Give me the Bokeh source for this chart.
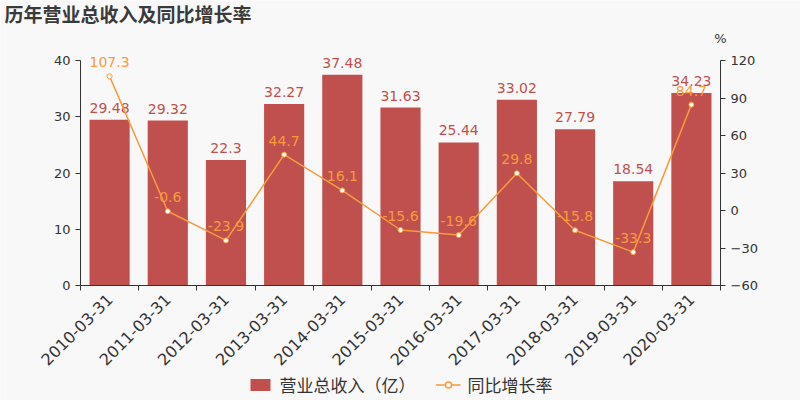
from bokeh.plotting import figure
from bokeh.models import (Range1d, LinearAxis, FixedTicker, ColumnDataSource, Legend, LegendItem, Label)
from bokeh.embed import file_html
from bokeh.resources import INLINE
from bokeh.core.properties import value
import math

dates = ["2010-03-31", "2011-03-31", "2012-03-31", "2013-03-31", "2014-03-31", "2015-03-31",
         "2016-03-31", "2017-03-31", "2018-03-31", "2019-03-31", "2020-03-31"]
revenue = [29.48, 29.32, 22.3, 32.27, 37.48, 31.63, 25.44, 33.02, 27.79, 18.54, 34.23]
growth = [107.3, -0.6, -23.9, 44.7, 16.1, -15.6, -19.6, 29.8, -15.8, -33.3, 84.7]
left_ticks = [0, 10, 20, 30, 40]
right_ticks = [-60, -30, 0, 30, 60, 90, 120]

BAR = "#c0504d"
LINE = "#f89a3e"
TXT = "#333333"
BG = "#f8f8f8"
NUM_FONT = "DejaVu Sans"
CJK = "Noto Sans CJK SC"

W, H = 800, 400
PL, PR, PT, PB = 80, 720, 60, 285   # plot-area pixel box
n = len(dates)

# ranges so that the whole canvas is the frame and the plot area sits at the box above
ux = (PR - PL) / n
x_lo, x_hi = -PL / ux, n + (W - PR) / ux
l_lo, l_hi = left_ticks[0], left_ticks[-1]
ul = (PB - PT) / (l_hi - l_lo)
r_lo, r_hi = right_ticks[0], right_ticks[-1]
ur = (PB - PT) / (r_hi - r_lo)

xs = [i + 0.5 for i in range(n)]
src = ColumnDataSource(dict(x=xs, rev=revenue, gr=growth,
                            rev_lbl=[f"{v:g}" for v in revenue],
                            gr_lbl=[f"{v:g}" for v in growth]))

p = figure(width=W, height=H, output_backend="svg", toolbar_location=None,
           x_range=Range1d(x_lo, x_hi),
           y_range=Range1d(l_lo - (H - PB) / ul, l_hi + PT / ul),
           background_fill_color=BG, border_fill_color=BG,
           min_border_left=0, min_border_right=0, min_border_top=0, min_border_bottom=0)
p.outline_line_color = None
p.xgrid.visible = False
p.ygrid.visible = False
p.extra_y_ranges = {"g": Range1d(r_lo - (H - PB) / ur, r_hi + PT / ur)}

bars = p.vbar(x="x", top="rev", width=0.69, source=src, fill_color=BAR, line_color=None)
p.text(x="x", y="rev", text="rev_lbl", source=src, text_color=BAR, text_align="center",
       text_baseline="bottom", y_offset=-7, text_font=value(NUM_FONT), text_font_size="14px")

ln = p.line(x="x", y="gr", source=src, y_range_name="g", line_color=LINE, line_width=1.5)
pts = p.scatter(x="x", y="gr", source=src, y_range_name="g", size=5, fill_color="white",
                line_color=LINE, line_width=1)
p.text(x="x", y="gr", text="gr_lbl", source=src, y_range_name="g", text_color=LINE,
       text_align="center", text_baseline="bottom", y_offset=-9,
       text_font=value(NUM_FONT), text_font_size="14px")

# legend-only marker (larger hollow circle, as in the original's legend); NaN = not drawn in plot
nan = float("nan")
leg_src = ColumnDataSource(dict(x=[nan], y=[nan]))
leg_pt = p.scatter(x="x", y="y", source=leg_src, size=12, fill_color="white",
                   line_color=LINE, line_width=1.5)

# axes (fixed inside the full-canvas frame)
xa = p.xaxis[0]
xa.fixed_location = 0
xa.bounds = (0, n)
xa.ticker = FixedTicker(ticks=xs, minor_ticks=list(range(n + 1)))
xa.major_label_overrides = {x: d for x, d in zip(xs, dates)}
xa.major_label_orientation = math.pi / 4
xa.major_tick_out = 0
xa.major_tick_in = 0
xa.minor_tick_out = 5
xa.minor_tick_in = 0
xa.minor_tick_line_color = TXT
xa.axis_line_color = TXT
xa.major_label_text_color = TXT
xa.major_label_text_font = NUM_FONT
xa.major_label_text_font_size = "16px"
xa.major_label_standoff = 6

ya = p.yaxis[0]
ya.fixed_location = 0
ya.bounds = (l_lo, l_hi)
ya.ticker = FixedTicker(ticks=left_ticks)
ya.minor_tick_line_color = None
ya.major_tick_in = 0
ya.major_tick_out = 5
ya.axis_line_color = TXT
ya.major_tick_line_color = TXT
ya.major_label_text_color = TXT
ya.major_label_text_font = NUM_FONT
ya.major_label_text_font_size = "13px"

ra = LinearAxis(y_range_name="g", ticker=FixedTicker(ticks=right_ticks))
ra.fixed_location = n
ra.bounds = (r_lo, r_hi)
ra.minor_tick_line_color = None
ra.major_tick_in = 0
ra.major_tick_out = 5
ra.axis_line_color = TXT
ra.major_tick_line_color = TXT
ra.major_label_text_color = TXT
ra.major_label_text_font = NUM_FONT
ra.major_label_text_font_size = "13px"
p.add_layout(ra, "right")

# title and unit (screen coords from the frame's bottom-left = canvas bottom-left)
p.add_layout(Label(x=4, y=H - 13, x_units="screen", y_units="screen", text="历年营业总收入及同比增长率",
                   text_font=CJK, text_font_size="19px", text_font_style="bold",
                   text_color="#3a3a3a", text_baseline="middle"))
p.add_layout(Label(x=PR, y=H - 38, x_units="screen", y_units="screen", text="%",
                   text_font=NUM_FONT, text_font_size="13px", text_color=TXT,
                   text_baseline="middle", text_align="center"))

legend = Legend(items=[LegendItem(label="营业总收入（亿）", renderers=[bars]),
                       LegendItem(label="同比增长率", renderers=[ln, leg_pt])],
                orientation="horizontal", location="bottom_center",
                background_fill_alpha=0, border_line_color=None,
                label_text_font=CJK, label_text_font_size="17px", label_text_color=TXT,
                glyph_width=25, glyph_height=15, spacing=20, label_standoff=7, padding=2, margin=3)
p.add_layout(legend, "center")

open("out.html", "w").write(file_html(p, INLINE))
